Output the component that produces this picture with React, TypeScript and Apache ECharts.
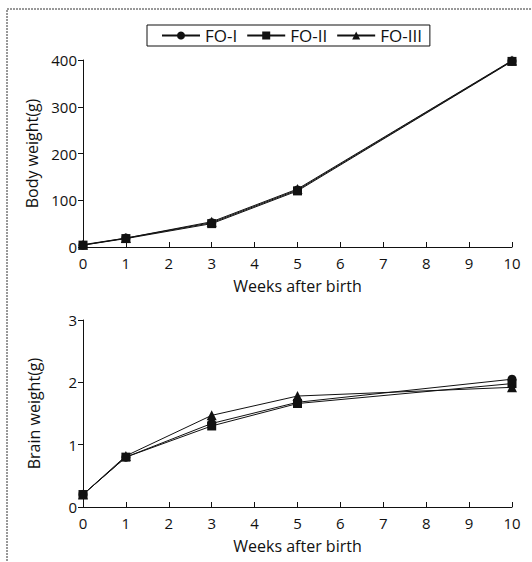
import React, { useEffect, useRef } from "react";
import * as echarts from "echarts";

const weeks = [0, 1, 3, 5, 10];
const seriesNames = ["FO-I", "FO-II", "FO-III"];
const symbols = ["circle", "rect", "triangle"];
const bodyFO1 = [4, 19, 52, 122, 398];
const bodyFO2 = [4, 18, 50, 120, 397];
const bodyFO3 = [5, 19, 54, 124, 399];
const brainFO1 = [0.2, 0.8, 1.34, 1.68, 2.05];
const brainFO2 = [0.2, 0.8, 1.3, 1.66, 1.98];
const brainFO3 = [0.2, 0.82, 1.47, 1.78, 1.92];
const xTicks = [0, 1, 2, 3, 4, 5, 6, 7, 8, 9, 10];

const FONT = "Open Sans";

export default function App() {
  const ref = useRef<HTMLDivElement>(null);
  useEffect(() => {
    if (!ref.current) return;
    const chart = echarts.init(ref.current, undefined, { renderer: "svg" });
    const bodies = [bodyFO1, bodyFO2, bodyFO3];
    const brains = [brainFO1, brainFO2, brainFO3];
    const xAxisBase = (gridIndex: number) => ({
      type: "value",
      gridIndex,
      min: 0,
      max: 10,
      interval: 1,
      name: "Weeks after birth",
      nameLocation: "middle",
      nameGap: 31,
      nameTextStyle: { fontFamily: FONT, fontSize: 16, color: "#111" },
      axisLine: { show: true, lineStyle: { color: "#111", width: 1 } },
      axisTick: { show: true, inside: true, length: 5, lineStyle: { color: "#111" } },
      axisLabel: {
        fontFamily: FONT,
        fontSize: 15,
        color: "#111",
        margin: 8,
        formatter: (v: number) => (xTicks.includes(v) ? String(v) : ""),
      },
      splitLine: { show: false },
    });
    const yAxisBase = (gridIndex: number, max: number, interval: number, name: string) => ({
      type: "value",
      gridIndex,
      min: 0,
      max,
      interval,
      name,
      nameLocation: "middle",
      nameGap: 41,
      nameTextStyle: { fontFamily: FONT, fontSize: 16, color: "#111" },
      axisLine: { show: true, lineStyle: { color: "#111", width: 1 } },
      axisTick: { show: true, inside: false, length: 5, lineStyle: { color: "#111" } },
      axisLabel: { fontFamily: FONT, fontSize: 15, color: "#111", margin: 6 },
      splitLine: { show: false },
    });
    const series: any[] = [];
    seriesNames.forEach((n, i) => {
      series.push({
        name: n,
        type: "line",
        xAxisIndex: 0,
        yAxisIndex: 0,
        data: weeks.map((w, k) => [w, bodies[i][k]]),
        symbol: symbols[i],
        symbolSize: i === 2 ? 10 : 9,
        lineStyle: { color: "#111", width: 1 },
        itemStyle: { color: "#111" },
      });
      series.push({
        name: n,
        type: "line",
        xAxisIndex: 1,
        yAxisIndex: 1,
        data: weeks.map((w, k) => [w, brains[i][k]]),
        symbol: symbols[i],
        symbolSize: i === 2 ? 10 : 9,
        lineStyle: { color: "#111", width: 1 },
        itemStyle: { color: "#111" },
      });
    });
    chart.setOption({
      animation: false,
      backgroundColor: "#fff",
      textStyle: { fontFamily: FONT },
      legend: {
        data: seriesNames,
        top: 25,
        left: 147,
        itemWidth: 38,
        itemHeight: 10,
        itemGap: 9,
        borderColor: "#111",
        borderWidth: 1,
        padding: [2, 8, 2, 14],
        textStyle: { fontFamily: FONT, fontSize: 17, color: "#111" },
      },
      grid: [
        { left: 83, right: 20, top: 60, height: 187 },
        { left: 83, right: 20, top: 320, height: 187 },
      ],
      xAxis: [xAxisBase(0), xAxisBase(1)],
      yAxis: [yAxisBase(0, 400, 100, "Body weight(g)"), yAxisBase(1, 3, 1, "Brain weight(g)")],
      series,
      graphic: [
        {
          type: "rect",
          shape: { x: 7, y: 9, width: 540, height: 570 },
          style: { fill: "none", stroke: "#333", lineWidth: 1, lineDash: [2, 1] },
          silent: true,
        },
      ],
    });
    return () => chart.dispose();
  }, []);
  return (
    <div
      ref={ref}
      style={{ position: "absolute", left: 0, top: 0, width: 532, height: 562 }}
    />
  );
}
